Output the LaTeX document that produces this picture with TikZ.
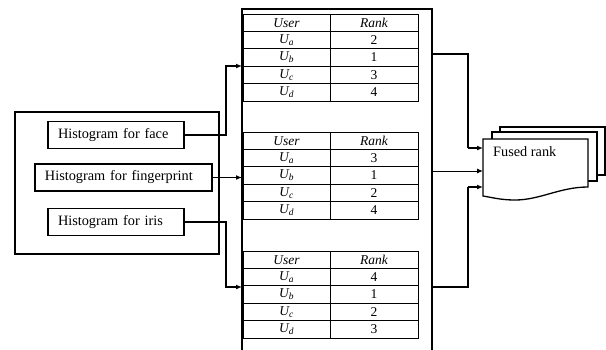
\documentclass[tikz,border=0pt]{standalone}
\usepackage{fontspec}
\setmainfont{Liberation Serif}
\usetikzlibrary{arrows.meta,calc}
\begin{document}
\begin{tikzpicture}[x=1pt,y=-1pt,
  box/.style={draw,line width=1.3pt,inner ysep=0pt,inner xsep=10pt,outer sep=0pt,
    minimum height=27pt,align=left,font=\fontsize{14.3}{16}\selectfont},
  frame/.style={draw,line width=1.3pt,inner sep=0pt,outer sep=0pt},
  tbl/.style={draw,line width=0.8pt,inner sep=0pt,outer sep=0pt,anchor=north west,
    minimum width=174.5pt,minimum height=87pt},
  grid/.style={line width=0.8pt},
  cell/.style={inner sep=0pt,font=\fontsize{13.5}{15}\selectfont},
  conn/.style={line width=1.3pt},
  arr/.style={line width=1.3pt,-{Latex[length=6pt,width=5pt]}},
  paper/.style={draw,line width=1.3pt,fill=white}]
\useasboundingbox (0,0) rectangle (606,349);

% source box and histogram boxes
\node[frame,minimum width=204pt,minimum height=142pt] (src) at (117,183) {};
\node[box,text width=116pt] (face) at (116,135) {Histogram for face};
\node[box,text width=157pt] (fp) at (123.5,177.5) {Histogram for fingerprint};
\node[box,text width=116pt] (iris) at (116,222) {Histogram for iris};

% rank panel (open at the bottom)
\node[inner sep=0pt,outer sep=0pt,minimum width=190pt,minimum height=341pt] (ranks) at (337,179.5) {};
\draw[line width=2pt] (ranks.south west) -- (ranks.north west) -- (ranks.north east) -- (ranks.south east);

% tables
\foreach \T/\nm/\ra/\rb/\rc/\rd in {14/t1/2/1/3/4, 132/t2/3/1/2/4, 251/t3/4/1/2/3} {
  \node[tbl] (\nm) at (243.5,\T) {};
  \foreach \k in {1,...,4} \draw[grid] (243.5,\T+17.4*\k) -- ++(174.5,0);
  \draw[grid] (330,\T) -- (330,\T+87);
  \node[cell] (\nm-h1) at (286.5,\T+8.7) {\textit{User}};
  \node[cell] (\nm-h2) at (374,\T+8.7) {\textit{Rank}};
  \foreach \k/\u/\v in {1/a/\ra, 2/b/\rb, 3/c/\rc, 4/d/\rd} {
    \node[cell] (\nm-u\k) at (286.5,\T+8.7+17.4*\k) {$\mathit{U}_{\mathit{\u}}$};
    \node[cell] (\nm-r\k) at (374,\T+8.7+17.4*\k) {\v};
  }
}

% output documents
\node[inner sep=0pt,outer sep=0pt,minimum width=105pt,minimum height=57pt,anchor=north west] (doc) at (483,139) {};
\draw[paper] (500,127) rectangle (605,175);
\draw[paper] (492,132) rectangle (597,181);
\draw[paper] (doc.north west) -- (doc.north east) -- (588,187)
  .. controls (560,187) and (540,200) .. (515,200)
  .. controls (500,200) and (490,197) .. (483,196) -- cycle;
\node[anchor=base west,inner sep=0pt,font=\fontsize{14.3}{16}\selectfont] (fused) at (493,156) {Fused rank};

% connectors left
\coordinate (lj) at (226,0);
\draw[arr] (face.east) -- (face.east -| lj) |- (ranks.west |- 0,66);
\draw[arr] (fp.east) -- (fp.east -| ranks.west);
\draw[arr] (iris.east) -- (iris.east -| lj) |- (ranks.west |- 0,287);

% connectors right
\coordinate (rj) at (468,0);
\draw[conn] (ranks.east |- 0,54) -| (rj |- 0,148);
\draw[arr] (rj |- 0,148) -- (doc.west |- 0,148);
\draw[arr,line width=1pt] (ranks.east |- 0,171) -- (doc.west |- 0,171);
\draw[conn] (ranks.east |- 0,287) -| (rj |- 0,187);
\draw[arr] (rj |- 0,187) -- (doc.west |- 0,187);
\end{tikzpicture}
\end{document}
